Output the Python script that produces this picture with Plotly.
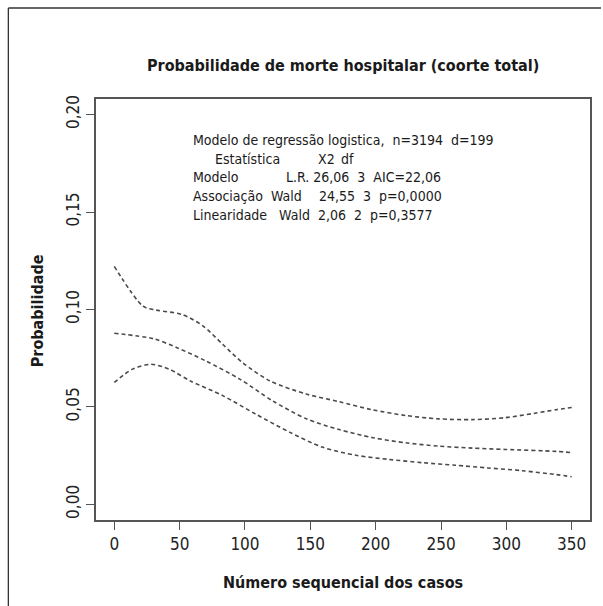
import plotly.graph_objects as go

# ---- data ----
upper_x = [0, 22, 32, 52, 68, 83, 98, 119, 147, 172, 197, 223, 248, 274, 299, 322, 338, 350]
upper_y = [0.1221, 0.1017, 0.0997, 0.0974, 0.0915, 0.0821, 0.0728, 0.0634, 0.0566, 0.0527, 0.0486,
           0.0456, 0.0439, 0.0435, 0.0445, 0.0468, 0.0486, 0.0497]
mid_x = [0, 30, 48, 70, 96, 121, 147, 172, 198, 223, 248, 274, 299, 338, 350]
mid_y = [0.0878, 0.0850, 0.0804, 0.0736, 0.0643, 0.0532, 0.0439, 0.0384, 0.0342, 0.0316, 0.0299,
         0.0289, 0.0282, 0.0272, 0.0266]
low_x = [0, 14, 28, 42, 58, 83, 108, 134, 159, 185, 210, 236, 261, 286, 312, 338, 350]
low_y = [0.0626, 0.0694, 0.0719, 0.0694, 0.0634, 0.0558, 0.0464, 0.0371, 0.0294, 0.0252, 0.0231,
         0.0214, 0.0201, 0.0187, 0.0173, 0.0153, 0.0142]

x_ticks = [0, 50, 100, 150, 200, 250, 300, 350]
y_ticks = [0.00, 0.05, 0.10, 0.15, 0.20]

title = "Probabilidade de morte hospitalar (coorte total)"
x_title = "Número sequencial dos casos"
y_title = "Probabilidade"
stats_text = [
    "Modelo de regressão logistica,  n=3194  d=199",
    "Estatística", "X2", "df",
    "Modelo", "L.R. 26,06  3  AIC=22,06",
    "Associação  Wald", "24,55  3  p=0,0000",
    "Linearidade   Wald  2,06  2  p=0,3577",
]
stats_rows = [0, 1, 1, 1, 2, 2, 3, 3, 4]
stats_dx = [0, 22, 126, 149, 0, 94, 0, 127, 0]

FONT = "Liberation Sans Narrow, DejaVu Sans Condensed, Arial Narrow, sans-serif"
LINE_COLOR = "#4a4a4a"
TXT = "#1a1a1a"

W, H = 603, 606
L, R, T, B = 96, 11, 99, 86
pw, ph = W - L - R, H - T - B


def px_x(p):
    return (p - L) / pw


def px_y(p):
    return (H - B - p) / ph


fig = go.Figure()
for xs, ys in [(upper_x, upper_y), (mid_x, mid_y), (low_x, low_y)]:
    fig.add_trace(go.Scatter(x=xs, y=ys, mode="lines",
                             line=dict(color=LINE_COLOR, width=1.6, dash="4px,3px", shape="spline", smoothing=0.8),
                             showlegend=False, hoverinfo="skip"))

annotations = [
    dict(text=f"<b>{title}</b>", x=0.5, y=px_y(66), xref="paper", yref="paper",
         showarrow=False, font=dict(size=16, color=TXT, family=FONT), xanchor="center", yanchor="middle"),
    dict(text=f"<b>{x_title}</b>", x=0.5, y=px_y(582), xref="paper", yref="paper",
         showarrow=False, font=dict(size=16, color=TXT, family=FONT), xanchor="center", yanchor="middle"),
    dict(text=f"<b>{y_title}</b>", x=px_x(37), y=px_y(311), xref="paper", yref="paper", textangle=-90,
         showarrow=False, font=dict(size=16, color=TXT, family=FONT), xanchor="center", yanchor="middle"),
]
row_y = [140, 158.5, 177, 196, 215]
for txt, r, dx in zip(stats_text, stats_rows, stats_dx):
    annotations.append(dict(text=txt.replace(" ", "\u00a0"), x=px_x(191 + dx), y=px_y(row_y[r]),
                            xref="paper", yref="paper", showarrow=False, xanchor="left", yanchor="middle",
                            font=dict(size=14, color=TXT, family=FONT)))

fig.update_layout(
    width=W, height=H, margin=dict(l=L, r=R, t=T, b=B),
    paper_bgcolor="white", plot_bgcolor="white",
    separators=",.",
    annotations=annotations,
    shapes=[
        dict(type="line", xref="paper", yref="paper", x0=px_x(8), x1=px_x(W), y0=px_y(8), y1=px_y(8),
             line=dict(color="#333", width=1.3)),
        dict(type="line", xref="paper", yref="paper", x0=px_x(8), x1=px_x(8), y0=px_y(8), y1=px_y(H),
             line=dict(color="#333", width=1.3)),
    ],
)
fig.update_xaxes(range=[-14, 364], tickvals=x_ticks, ticks="outside", ticklen=8, tickwidth=1.3,
                 tickcolor="#555", showline=True, mirror=True, linecolor="#555", linewidth=1.5,
                 showgrid=False, zeroline=False, tickfont=dict(size=17, color="#222", family=FONT))
fig.update_yaxes(range=[-0.008, 0.208], tickvals=y_ticks, tickformat=".2f", ticks="outside", ticklen=8,
                 tickwidth=1.3, tickcolor="#555", showline=True, mirror=True, linecolor="#555", linewidth=1.5,
                 showgrid=False, zeroline=False, tickangle=-90,
                 tickfont=dict(size=17, color="#222", family=FONT))

fig.write_html("out.html")
